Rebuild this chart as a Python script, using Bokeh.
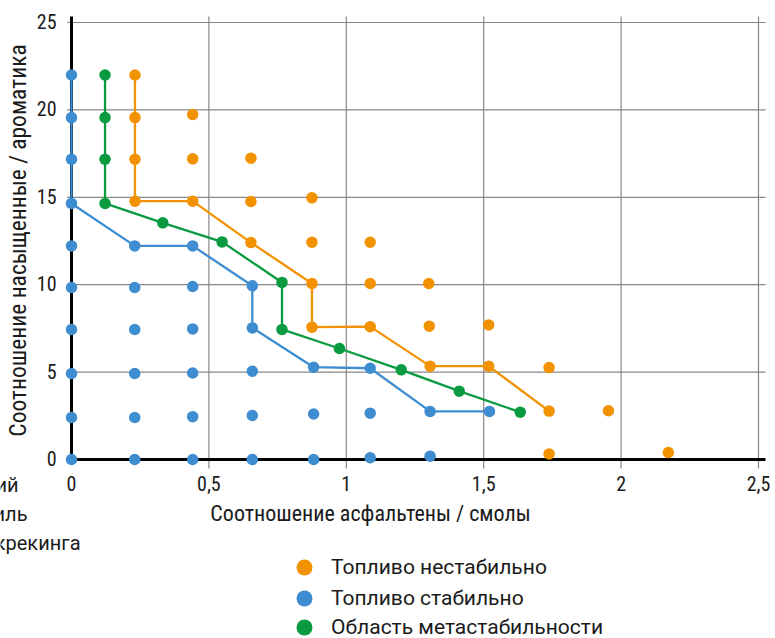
import math
from bokeh.plotting import figure
from bokeh.models import Range1d, Label, Legend, LegendItem
from bokeh.embed import file_html
from bokeh.resources import INLINE
from bokeh.core.properties import value

# ---------------- data ----------------
x_ticks = [0, 0.5, 1, 1.5, 2, 2.5]
x_tick_labels = ["0", "0,5", "1", "1,5", "2", "2,5"]
y_ticks = [0, 5, 10, 15, 20, 25]
y_tick_labels = ["0", "5", "10", "15", "20", "25"]

# unstable fuel: boundary line + other points
unstable_line_x = [0.231, 0.231, 0.231, 0.231, 0.441, 0.653, 0.875, 0.875, 1.087, 1.305, 1.518, 1.738]
unstable_line_y = [22.0, 19.56, 17.18, 14.78, 14.78, 12.41, 10.07, 7.57, 7.6, 5.34, 5.34, 2.77]
unstable_pts_x = [0.441, 0.441, 0.653, 0.653, 0.875, 0.875, 1.087, 1.087, 1.300, 1.302, 1.518, 1.738, 1.954, 1.738, 2.172]
unstable_pts_y = [19.74, 17.2, 17.24, 14.76, 14.97, 12.43, 12.43, 10.07, 10.07, 7.63, 7.7, 5.26, 2.79, 0.32, 0.4]

# stable fuel: boundary line + other points
stable_line_x = [0.0, 0.0, 0.0, 0.0, 0.23, 0.441, 0.658, 0.658, 0.881, 1.087, 1.305, 1.521]
stable_line_y = [22.0, 19.56, 17.18, 14.65, 12.22, 12.22, 9.94, 7.53, 5.28, 5.22, 2.75, 2.75]
stable_pts_x = [0.0, 0.0, 0.0, 0.0, 0.0, 0.0,
                0.23, 0.23, 0.23, 0.23, 0.23,
                0.441, 0.441, 0.441, 0.441, 0.441,
                0.658, 0.658, 0.658,
                0.881, 0.881,
                1.087, 1.087,
                1.305]
stable_pts_y = [12.22, 9.84, 7.44, 4.92, 2.4, 0.0,
                9.84, 7.44, 4.92, 2.4, 0.0,
                9.9, 7.47, 4.95, 2.45, 0.0,
                5.05, 2.52, 0.0,
                2.6, 0.0,
                2.65, 0.1,
                0.19]

# metastable region boundary
meta_x = [0.122, 0.122, 0.122, 0.122, 0.332, 0.548, 0.766, 0.766, 0.975, 1.2, 1.411, 1.633]
meta_y = [22.0, 19.56, 17.18, 14.65, 13.54, 12.45, 10.13, 7.44, 6.35, 5.13, 3.91, 2.71]

legend_labels = ["Топливо нестабильно", "Топливо стабильно", "Область метастабильности"]
x_title = "Соотношение асфальтены / смолы"
y_title = "Соотношение насыщенные / ароматика"
side_note = ["Критический", "профиль", "термокрекинга"]

# ---------------- style / geometry ----------------
FONT = "Roboto Condensed"
LEG_FONT = "Roboto"
ORANGE = "#F39200"
BLUE = "#3D8DD0"
GREEN = "#0A9A40"
TXT = "#1a1a1a"

# whole canvas is the plotting frame; chart area limits in data units
X_START, X_END = -0.2584, 2.5619
Y_START, Y_END = -10.24, 26.259
AREA_X0, AREA_X1 = -0.0164, 2.5255
AREA_Y0, AREA_Y1 = -0.515, 25.343

p = figure(width=775, height=638, output_backend="svg", toolbar_location=None,
           x_range=Range1d(X_START, X_END), y_range=Range1d(Y_START, Y_END),
           x_axis_location=None, y_axis_location=None, min_border=0)
p.outline_line_color = None
p.background_fill_color = "white"
p.border_fill_color = "white"
p.grid.visible = False

# grid lines
gx = x_ticks[1:]
gy = y_ticks[1:]
p.segment(x0=gx, y0=[AREA_Y0] * len(gx), x1=gx, y1=[AREA_Y1] * len(gx),
          line_color="#888888", line_width=1.2)
p.segment(x0=[AREA_X0] * len(gy), y0=gy, x1=[AREA_X1] * len(gy), y1=gy,
          line_color="#888888", line_width=1.2)

# black axis lines at x=0 and y=0
p.segment(x0=[0, 0], y0=[0, 0], x1=[AREA_X1, 0], y1=[0, AREA_Y1], line_color="black", line_width=3)

# tick labels
p.text(x=[0] * len(y_ticks), y=y_ticks, text=y_tick_labels, text_align="right",
       text_baseline="alphabetic", x_offset=-15, y_offset=-1,
       text_font=value(FONT), text_font_size="20px", text_color=TXT)
p.text(x=x_ticks, y=[0] * len(x_ticks), text=x_tick_labels, text_align="center",
       text_baseline="alphabetic", y_offset=24,
       text_font=value(FONT), text_font_size="20px", text_color=TXT)

# boundary lines
p.line(unstable_line_x, unstable_line_y, line_color=ORANGE, line_width=2.3)
p.line(stable_line_x, stable_line_y, line_color=BLUE, line_width=2.3)
p.line(meta_x, meta_y, line_color=GREEN, line_width=2.3)

# points
DOT = 11.5
r_un = p.scatter(unstable_line_x + unstable_pts_x, unstable_line_y + unstable_pts_y,
                 size=DOT, fill_color=ORANGE, line_color=None)
r_st = p.scatter(stable_line_x + stable_pts_x, stable_line_y + stable_pts_y,
                 size=DOT, fill_color=BLUE, line_color=None)
r_me = p.scatter(meta_x, meta_y, size=DOT, fill_color=GREEN, line_color=None)

# axis titles
p.add_layout(Label(x=1.088, y=-3.10, text=x_title, text_align="center", text_baseline="alphabetic",
                   text_font=FONT, text_font_size="22px", text_color=TXT))
p.add_layout(Label(x=-0.1929, y=12.53, text=y_title, angle=math.pi / 2,
                   text_align="center", text_baseline="alphabetic",
                   text_font=FONT, text_font_size="23.5px", text_color=TXT))

# side note cut by the left edge
note_x = [-0.1929, -0.1601, 0.0328]
note_y = [-1.487, -3.146, -4.748]
for t, nx, ny in zip(side_note, note_x, note_y):
    p.add_layout(Label(x=nx, y=ny, text=t, text_align="right", text_baseline="alphabetic",
                       text_font=LEG_FONT, text_font_size="20px", text_color=TXT))

# legend: one single-row legend per entry, stacked 30 px apart
legend_rows = [(legend_labels[0], r_un, 51), (legend_labels[1], r_st, 20), (legend_labels[2], r_me, -9)]
for lab, rend, vy in legend_rows:
    lg = Legend(items=[LegendItem(label=lab, renderers=[rend])],
                location=(284, vy), orientation="vertical",
                glyph_width=40, glyph_height=40, spacing=0, padding=0, margin=0,
                label_standoff=7, label_text_font=LEG_FONT, label_text_font_size="21px",
                label_text_color=TXT, border_line_color=None, background_fill_alpha=0)
    p.add_layout(lg, "center")

open("out.html", "w").write(file_html(p, INLINE))
